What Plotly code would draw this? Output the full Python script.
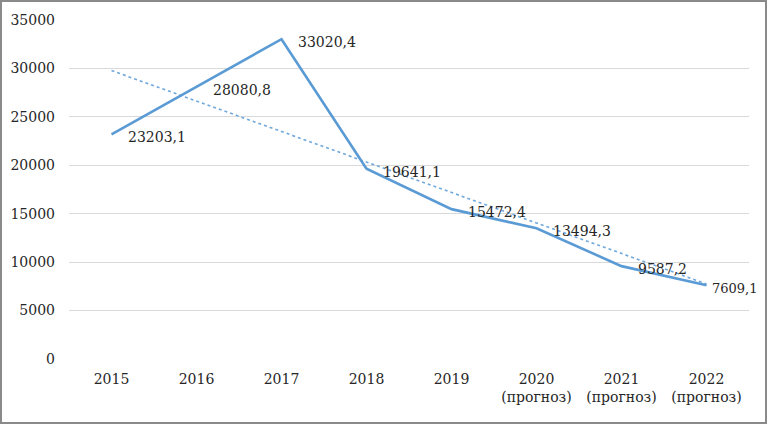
import plotly.graph_objects as go

years = ["2015", "2016", "2017", "2018", "2019", "2020", "2021", "2022"]
tick_labels = ["2015", "2016", "2017", "2018", "2019",
               "2020<br>(прогноз)", "2021<br>(прогноз)", "2022<br>(прогноз)"]
values = [23203.1, 28080.8, 33020.4, 19641.1, 15472.4, 13494.3, 9587.2, 7609.1]
trend_values = [29780, 7750]  # at 2015 and 2022
y_ticks = [0, 5000, 10000, 15000, 20000, 25000, 30000, 35000]

W, H = 767, 424
L, R, T, B = 69, 18, 20, 65
pw, ph = W - L - R, H - T - B

FONT = "DejaVu Serif"
FS = 14
xs = list(range(len(years)))

fig = go.Figure()
fig.add_trace(go.Scatter(
    x=[xs[0], xs[-1]], y=trend_values, mode="lines",
    line=dict(color="#6FA8DC", width=1.6, dash="dot"),
    hoverinfo="skip", showlegend=False))
fig.add_trace(go.Scatter(
    x=xs, y=values, mode="lines",
    line=dict(color="#5B9BD5", width=2.6),
    showlegend=False))

for i, v in enumerate(values):
    last = i == len(values) - 1
    fig.add_annotation(
        x=xs[i], y=v, xref="x", yref="y",
        text=f"{v:.1f}".replace(".", ","),
        showarrow=False, xanchor="left", yanchor="middle",
        xshift=4 if last else 15, yshift=-3, borderpad=0,
        font=dict(family=FONT, size=13 if last else FS, color="#262626"))

fig.add_shape(type="rect", xref="paper", yref="paper",
              x0=(-L + 1) / pw, x1=(W - L - 1) / pw,
              y0=(-B + 1) / ph, y1=(H - B - 1) / ph,
              line=dict(color="#8a8a8a", width=2), fillcolor="rgba(0,0,0,0)")

fig.update_layout(
    width=W, height=H,
    margin=dict(l=L, r=R, t=T, b=B, pad=0, autoexpand=False),
    paper_bgcolor="white", plot_bgcolor="white",
    font=dict(family=FONT, size=FS, color="#262626"),
    xaxis=dict(range=[-0.5, 7.5], tickvals=xs, ticktext=tick_labels,
               showgrid=False, zeroline=False, showline=False, automargin=False,
               ticks="", ticklabelstandoff=10,
               tickfont=dict(family=FONT, size=FS, color="#262626")),
    yaxis=dict(range=[0, 35000], tickvals=y_ticks, tickformat="d",
               showgrid=True, gridcolor="#d9d9d9", gridwidth=1.3,
               zeroline=False, showline=False, ticks="", automargin=False,
               ticklabelstandoff=13,
               tickfont=dict(family=FONT, size=FS, color="#262626")),
)

fig.write_html("out.html", config={"displayModeBar": False},
               post_script="document.body.style.margin='0';document.body.style.overflow='hidden';")
